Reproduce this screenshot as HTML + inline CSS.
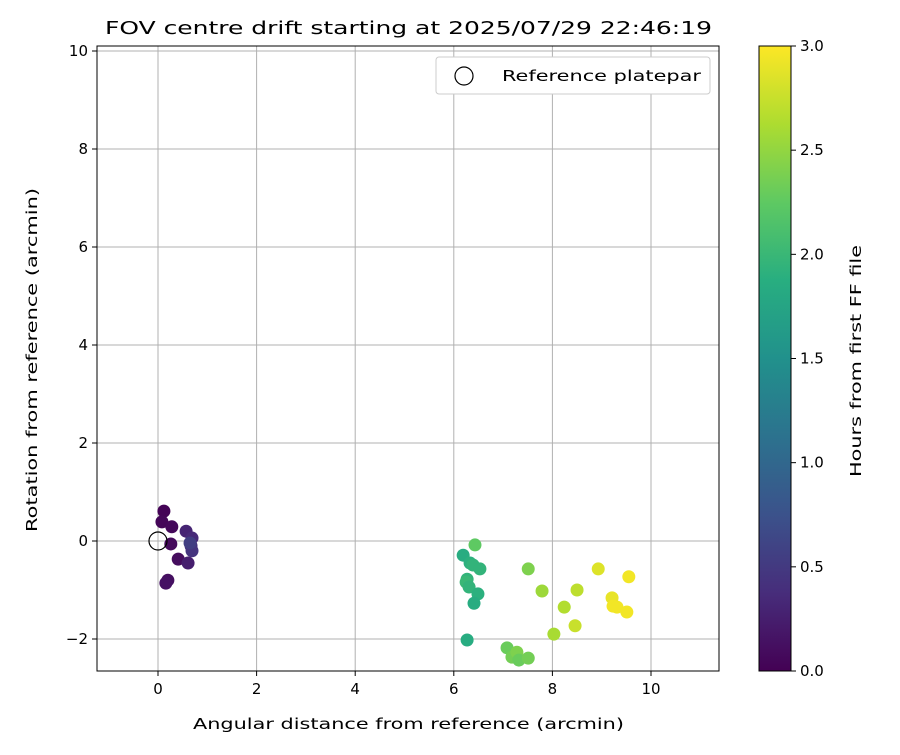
<!DOCTYPE html>
<html><head><meta charset="utf-8"><style>body{margin:0;background:#fff}svg{font-family:"DejaVu Sans","Liberation Sans",sans-serif}</style></head>
<body>
<svg id="chart" width="900" height="750" xmlns="http://www.w3.org/2000/svg">
<defs><linearGradient id="vir" x1="0" y1="1" x2="0" y2="0">
<stop offset="0" stop-color="#440154"/><stop offset="0.125" stop-color="#472d7b"/><stop offset="0.25" stop-color="#3b528b"/><stop offset="0.375" stop-color="#2c728e"/><stop offset="0.5" stop-color="#21918c"/><stop offset="0.625" stop-color="#28ae80"/><stop offset="0.75" stop-color="#5ec962"/><stop offset="0.875" stop-color="#addc30"/><stop offset="1" stop-color="#fde725"/></linearGradient>
<clipPath id="clip"><rect x="97" y="46" width="622" height="625"/></clipPath></defs>
<text x="105" y="34" font-size="18" textLength="607" lengthAdjust="spacingAndGlyphs">FOV centre drift starting at 2025/07/29 22:46:19</text>
<g id="grid"></g><g id="pts" clip-path="url(#clip)"></g>
<rect x="97" y="46" width="622" height="625" fill="none" stroke="#000" stroke-width="1"/>
<g id="ticks"></g>
<text x="193" y="729" font-size="15" textLength="431" lengthAdjust="spacingAndGlyphs">Angular distance from reference (arcmin)</text>
<text transform="translate(37,532) rotate(-90)" font-size="15" textLength="344" lengthAdjust="spacingAndGlyphs">Rotation from reference (arcmin)</text>
<g>
<rect x="436" y="57" width="274" height="37" rx="3" fill="#fff" stroke="#ccc"/>
<circle cx="464" cy="76" r="9" fill="none" stroke="#000" stroke-width="1.2"/>
<text x="502" y="81" font-size="15" textLength="199" lengthAdjust="spacingAndGlyphs">Reference platepar</text></g>
<rect x="759" y="46" width="32" height="625" fill="url(#vir)" stroke="#000"/>
<g id="cbticks"></g>
<text transform="translate(861,477) rotate(-90)" font-size="15" textLength="232" lengthAdjust="spacingAndGlyphs">Hours from first FF file</text>
</svg>
<script>
const xs=[0.12,0.08,0.28,0.26,0.41,0.20,0.16,0.57,0.69,0.67,0.69,0.61,0.65,6.19,6.33,6.39,6.53,6.27,6.25,6.31,6.49,6.41,6.27,6.43,7.51,7.08,7.18,7.28,7.32,7.51,7.79,8.24,8.03,8.50,8.46,8.93,9.21,9.23,9.31,9.51,9.55];
const ys=[0.61,0.39,0.29,-0.06,-0.37,-0.80,-0.86,0.20,0.06,-0.10,-0.20,-0.45,-0.04,-0.29,-0.45,-0.49,-0.57,-0.78,-0.84,-0.94,-1.08,-1.27,-2.02,-0.08,-0.57,-2.18,-2.37,-2.27,-2.43,-2.39,-1.02,-1.35,-1.90,-1.00,-1.73,-0.57,-1.16,-1.33,-1.35,-1.45,-0.73];
const hours=[0.02,0.04,0.06,0.08,0.10,0.12,0.14,0.3,0.35,0.4,0.45,0.25,0.55,1.85,1.9,1.95,1.95,1.95,2.0,1.95,1.9,1.85,1.85,2.25,2.4,2.3,2.35,2.4,2.3,2.35,2.55,2.65,2.6,2.7,2.75,2.85,2.9,2.95,2.95,2.95,2.95];
const xTicks=[0,2,4,6,8,10], yTicks=[-2,0,2,4,6,8,10], cTicks=[0,0.5,1,1.5,2,2.5,3];
const X=v=>158+v*49.3, Y=v=>541-v*49, C=v=>671-v/3*625;
const vir=[[68,1,84],[71,45,123],[59,82,139],[44,114,142],[33,145,140],[40,174,128],[94,201,98],[173,220,48],[253,231,37]];
function col(h){let t=Math.max(0,Math.min(1,h/3))*8,i=Math.min(7,Math.floor(t)),f=t-i,a=vir[i],b=vir[i+1];return `rgb(${a.map((c,k)=>Math.round(c+(b[k]-c)*f)).join(',')})`;}
const ns="http://www.w3.org/2000/svg";
function mk(p,tag,at){const e=document.createElementNS(ns,tag);for(const k in at)e.setAttribute(k,at[k]);document.getElementById(p).appendChild(e);return e;}
xTicks.forEach(v=>{const l=mk('grid','line',{x1:X(v),x2:X(v),y1:46,y2:671,stroke:'#b0b0b0'});

mk('ticks','line',{x1:X(v),x2:X(v),y1:671,y2:676,stroke:'#000'});
const tx=mk('ticks','text',{x:X(v),y:694,'font-size':15,'text-anchor':'middle'});tx.textContent=v;
});
yTicks.forEach(v=>{const l=mk('grid','line',{x1:97,x2:719,y1:Y(v),y2:Y(v),stroke:'#b0b0b0'});

mk('ticks','line',{x1:92,x2:97,y1:Y(v),y2:Y(v),stroke:'#000'});
const tx=mk('ticks','text',{x:88,y:Y(v)+5,'font-size':15,'text-anchor':'end'});tx.textContent=v<0?'\u2212'+(-v):v;
});
cTicks.forEach(v=>{mk('cbticks','line',{x1:791,x2:796,y1:C(v),y2:C(v),stroke:'#000'});
const tx=mk('cbticks','text',{x:800,y:C(v)+5,'font-size':15});tx.textContent=v.toFixed(1);
});
xs.forEach((x,i)=>{const c=mk('pts','circle',{cx:X(x),cy:Y(ys[i]),r:6.5,fill:col(hours[i])});
});
const r=mk('pts','circle',{cx:X(0),cy:Y(0),r:9,fill:'none',stroke:'#000','stroke-width':1.2});

</script>
</body></html>
